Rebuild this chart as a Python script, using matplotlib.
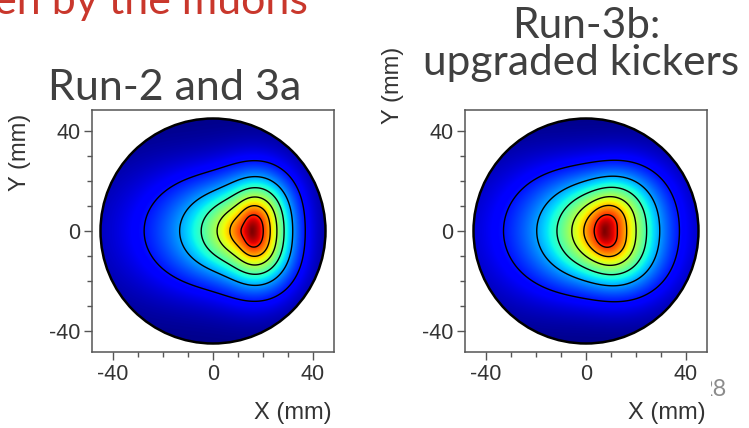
import numpy as np
import matplotlib
matplotlib.use("Agg")
import matplotlib.pyplot as plt
from matplotlib.patches import Circle, Rectangle
from matplotlib.ticker import FixedLocator, MultipleLocator

plt.rcParams["axes.unicode_minus"] = False

# ---- beam distributions in the storage-region aperture ----
panel_titles = ["Run-2 and 3a", "Run-3b:\nupgraded kickers"]
peak_x_mm = [15.5, 7.3]
peak_y_mm = [0.0, 0.0]

# fall-off of each distribution around its peak, sampled along these directions
profile_angles_deg = [0, 45, 90, 135, 180]
falloff_scale_run2_3a = [14.3, 17.0, 19.0, 18.8, 23.5]   # mm
falloff_shape_run2_3a = [1.65, 1.68, 1.70, 1.30, 1.10]
falloff_scale_run3b = [19.0, 20.4, 19.0, 19.5, 22.0]     # mm
falloff_shape_run3b = [1.45, 1.60, 1.70, 1.30, 1.10]

contour_levels = [1 / 7, 2 / 7, 3 / 7, 4 / 7, 5 / 7, 6 / 7]
aperture_radius_mm = 45.0
axis_limit_mm = 48.4
major_ticks = [-40, 0, 40]

TEXT_GREY = "#333333"
TITLE_GREY = "#404040"
SLIDE_RED = "#C9372C"
TITLE_FONT = ["Lato", "DejaVu Sans"]
AXIS_FONT = ["Liberation Sans", "DejaVu Sans"]


def beam_density(xx, yy, x0, y0, scales, shapes):
    """exp(-(rho / s(theta)) ** q(theta)) with s, q smooth in the polar angle."""
    nodes = np.radians(profile_angles_deg)
    k = np.arange(len(nodes))
    basis_nodes = np.cos(np.outer(nodes, k))
    c_scale = np.linalg.solve(basis_nodes, np.asarray(scales, float))
    c_shape = np.linalg.solve(basis_nodes, np.asarray(shapes, float))
    dx = xx - x0
    dy = yy - y0
    rho = np.hypot(dx, dy)
    theta = np.arctan2(np.abs(dy), dx)
    basis = np.cos(theta[..., None] * k)
    s = basis @ c_scale
    q = basis @ c_shape
    return np.exp(-(rho / s) ** q)


W, H = 749, 428
fig = plt.figure(figsize=(W / 100, H / 100), dpi=100)


def fx(px):
    return px / W


def fy(py):
    return 1 - py / H


panel_boxes = [(92, 110), (465, 110)]   # left, top in pixels
box_size = 242
params = [(falloff_scale_run2_3a, falloff_shape_run2_3a),
          (falloff_scale_run3b, falloff_shape_run3b)]

grid = np.linspace(-axis_limit_mm, axis_limit_mm, 700)
X, Y = np.meshgrid(grid, grid)
R = np.hypot(X, Y)

for i, (left, top) in enumerate(panel_boxes):
    ax = fig.add_axes([fx(left), fy(top + box_size), box_size / W, box_size / H])
    ax.set_zorder(2)
    scales, shapes = params[i]
    dens = beam_density(X, Y, peak_x_mm[i], peak_y_mm[i], scales, shapes)
    dens = np.where(R <= aperture_radius_mm + 0.6, dens, np.nan)

    edge = Circle((0, 0), aperture_radius_mm, transform=ax.transData)
    im = ax.imshow(dens, extent=[-axis_limit_mm, axis_limit_mm, -axis_limit_mm, axis_limit_mm],
                   origin="lower", cmap="jet", vmin=0, vmax=1, interpolation="bilinear")
    im.set_clip_path(edge)
    ax.contour(X, Y, dens, levels=contour_levels, colors="black", linewidths=1.0)
    ax.add_patch(Circle((0, 0), aperture_radius_mm, fill=False, ec="black", lw=1.8))

    ax.set_xlim(-axis_limit_mm, axis_limit_mm)
    ax.set_ylim(-axis_limit_mm, axis_limit_mm)
    ax.xaxis.set_major_locator(FixedLocator(major_ticks))
    ax.yaxis.set_major_locator(FixedLocator(major_ticks))
    ax.xaxis.set_minor_locator(MultipleLocator(10))
    ax.yaxis.set_minor_locator(MultipleLocator(10))
    ax.tick_params(which="both", direction="out", color="#555555", width=1.0,
                   top=False, right=False)
    ax.tick_params(which="major", length=5.5, labelsize=15.5, labelcolor=TEXT_GREY, pad=3)
    ax.tick_params(which="minor", length=3.8)
    for lab in ax.get_xticklabels() + ax.get_yticklabels():
        lab.set_family(AXIS_FONT)
    for sp in ax.spines.values():
        sp.set_color("#555555")
        sp.set_linewidth(1.1)

# axis titles
fig.text(fx(293), fy(413), "X (mm)", ha="center", va="center", fontsize=17,
         color=TEXT_GREY, family=AXIS_FONT)
fig.text(fx(667), fy(413), "X (mm)", ha="center", va="center", fontsize=17,
         color=TEXT_GREY, family=AXIS_FONT)
fig.text(fx(20), fy(152), "Y (mm)", ha="center", va="center", rotation=90, fontsize=17,
         color=TEXT_GREY, family=AXIS_FONT)
fig.text(fx(393), fy(85), "Y (mm)", ha="center", va="center", rotation=90, fontsize=17,
         color=TEXT_GREY, family=AXIS_FONT)

# panel headings
fig.text(fx(175), fy(100), panel_titles[0], ha="center", va="baseline", fontsize=31,
         color=TITLE_GREY, family=TITLE_FONT)
head_a, head_b = panel_titles[1].split("\n")
fig.text(fx(586), fy(38), head_a, ha="center", va="baseline", fontsize=30.5,
         color=TITLE_GREY, family=TITLE_FONT)
fig.text(fx(581), fy(75), head_b, ha="center", va="baseline", fontsize=30.5,
         color=TITLE_GREY, family=TITLE_FONT)

# slide heading and page number
fig.text(fx(308), fy(14), "seen by the muons", ha="right", va="baseline", fontsize=31,
         color=SLIDE_RED, family=TITLE_FONT)
fig.text(fx(727), fy(396), "28", ha="right", va="baseline", fontsize=17,
         color="#8c8c8c", family=TITLE_FONT, zorder=0.5)
fig.add_artist(Rectangle((fx(470), fy(405)), (711 - 470) / W, 60 / H,
                         transform=fig.transFigure, facecolor="white",
                         edgecolor="none", zorder=1))

fig.savefig("out.png", dpi=100)
